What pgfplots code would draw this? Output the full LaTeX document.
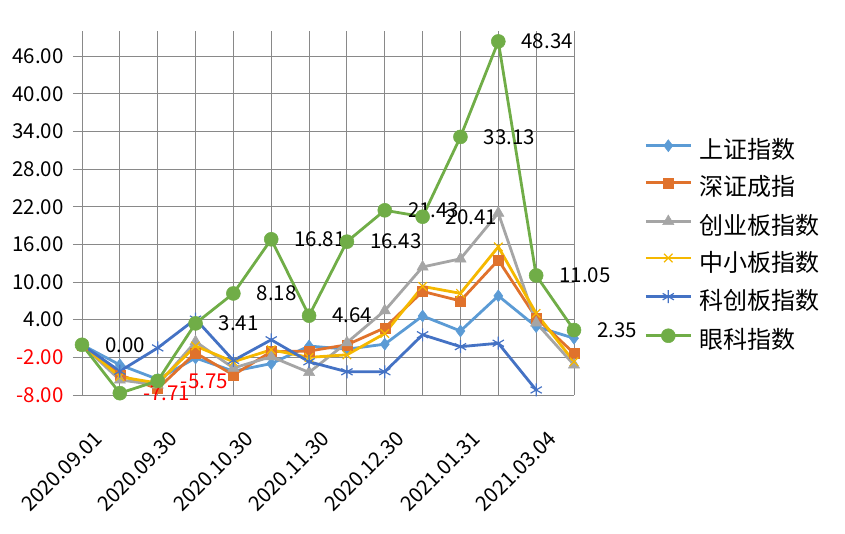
\documentclass[border=0pt]{standalone}
\usepackage{pgfplots}
\pgfplotsset{compat=1.18}
\usepackage{fontspec}
\setmainfont{Noto Sans CJK SC}
\definecolor{cSH}{HTML}{5B9BD5}
\definecolor{cSZ}{HTML}{E0722C}
\definecolor{cCY}{HTML}{A5A5A5}
\definecolor{cZX}{HTML}{F5B800}
\definecolor{cKC}{HTML}{4472C4}
\definecolor{cYK}{HTML}{70AD47}
\definecolor{gridc}{HTML}{898989}
\newcommand{\tickfont}{\fontsize{20.5bp}{24bp}\selectfont}
\newcommand{\legfont}{\fontsize{24bp}{28bp}\selectfont}
\begin{document}
\begin{tikzpicture}
\path[use as bounding box] (-82bp,-139bp) rectangle (763bp,395bp);
\begin{axis}[
  at={(0,0)}, anchor=south west,
  scale only axis, width=492bp, height=364bp,
  xmin=0, xmax=13, ymin=-8, ymax=50,
  axis x line=bottom, axis y line=left,
  axis line style={gridc, line width=1bp, -},
  xtick={0,...,13},
  xticklabels={2020.09.01,,2020.09.30,,2020.10.30,,2020.11.30,,2020.12.30,,2021.01.31,,2021.03.04,},
  ytick={-8,-2,4,10,16,22,28,34,40,46},
  yticklabels={\textcolor{red}{-8.00},\textcolor{red}{-2.00},4.00,10.00,16.00,22.00,28.00,34.00,40.00,46.00},
  grid=major,
  major grid style={gridc, line width=1bp},
  tick align=outside,
  major tick length=9bp,
  xtick style={draw=none},
  ytick style={gridc, line width=1bp},
  yticklabel style={font=\tickfont, inner sep=0pt, anchor=east, xshift=-8bp},
  xticklabel style={font=\tickfont, inner sep=0pt, xshift=17bp, yshift=-30bp, rotate=45, anchor=east},
  line width=2.8bp,
  legend style={at={(rel axis cs:1,0.408)}, anchor=west, xshift=69bp,
    draw=none, fill=none, inner sep=0pt, row sep=14.6bp, font=\legfont,
    nodes={inner sep=0pt, text height=17.5bp, text depth=4.5bp}},
  legend cell align=left,
  /tikz/every odd column/.append style={column sep=7bp},
  legend image code/.code={\draw[mark repeat=2,mark phase=2,#1] plot coordinates {(0bp,6.5bp)(22.5bp,6.5bp)(45bp,6.5bp)};},
]
\addplot[cSH, mark=diamond*, mark size=6bp, mark options={fill=cSH, draw=cSH, line width=0.5bp}] coordinates {
(0,0) (1,-3.2) (2,-5.5) (3,-2.1) (4,-4.2) (5,-3.0) (6,-0.2) (7,-0.7) (8,0.1) (9,4.6) (10,2.2) (11,7.8) (12,2.9) (13,1.05)};
\addlegendentry{上证指数}
\addplot[cSZ, mark=square*, mark size=5bp, mark options={fill=cSZ, draw=cSZ, line width=0.5bp}] coordinates {
(0,0) (1,-4.8) (2,-7.0) (3,-1.3) (4,-4.8) (5,-1.1) (6,-1.0) (7,0.0) (8,2.7) (9,8.5) (10,7.0) (11,13.5) (12,4.3) (13,-1.35)};
\addlegendentry{深证成指}
\addplot[cCY, mark=triangle*, mark size=6.5bp, mark options={fill=cCY, draw=cCY, line width=0.5bp}] coordinates {
(0,0) (1,-5.6) (2,-6.4) (3,0.5) (4,-3.7) (5,-1.9) (6,-4.4) (7,0.35) (8,5.45) (9,12.4) (10,13.7) (11,21.0) (12,3.5) (13,-3.2)};
\addlegendentry{创业板指数}
\addplot[cZX, mark=x, mark size=6bp, mark options={draw=cZX, line width=1.2bp}] coordinates {
(0,0) (1,-5.1) (2,-6.1) (3,-0.2) (4,-2.7) (5,-0.8) (6,-2.0) (7,-1.6) (8,1.8) (9,9.3) (10,8.2) (11,15.6) (12,5.0) (13,-2.7)};
\addlegendentry{中小板指数}
\addplot[cKC, mark=asterisk, mark size=6.5bp, mark options={draw=cKC, line width=1.2bp}] coordinates {
(0,0) (1,-4.2) (2,-0.5) (3,4.1) (4,-2.5) (5,0.8) (6,-2.7) (7,-4.3) (8,-4.3) (9,1.6) (10,-0.3) (11,0.25) (12,-7.2)};
\addlegendentry{科创板指数}
\addplot[cYK, mark=*, mark size=7bp, mark options={fill=cYK, draw=cYK, line width=0.5bp},
  point meta=explicit symbolic, nodes near coords,
  nodes near coords style={anchor=west, xshift=23bp, inner sep=0pt, font=\tickfont, text=black}] coordinates {
(0,0) [0.00]
(1,-7.71) [\textcolor{red}{-7.71}]
(2,-5.75) [\textcolor{red}{-5.75}]
(3,3.41) [3.41]
(4,8.18) [8.18]
(5,16.81) [16.81]
(6,4.64) [4.64]
(7,16.43) [16.43]
(8,21.43) [21.43]
(9,20.41) [20.41]
(10,33.13) [33.13]
(11,48.34) [48.34]
(12,11.05) [11.05]
(13,2.35) [2.35]};
\addlegendentry{眼科指数}
\end{axis}
\end{tikzpicture}
\end{document}
